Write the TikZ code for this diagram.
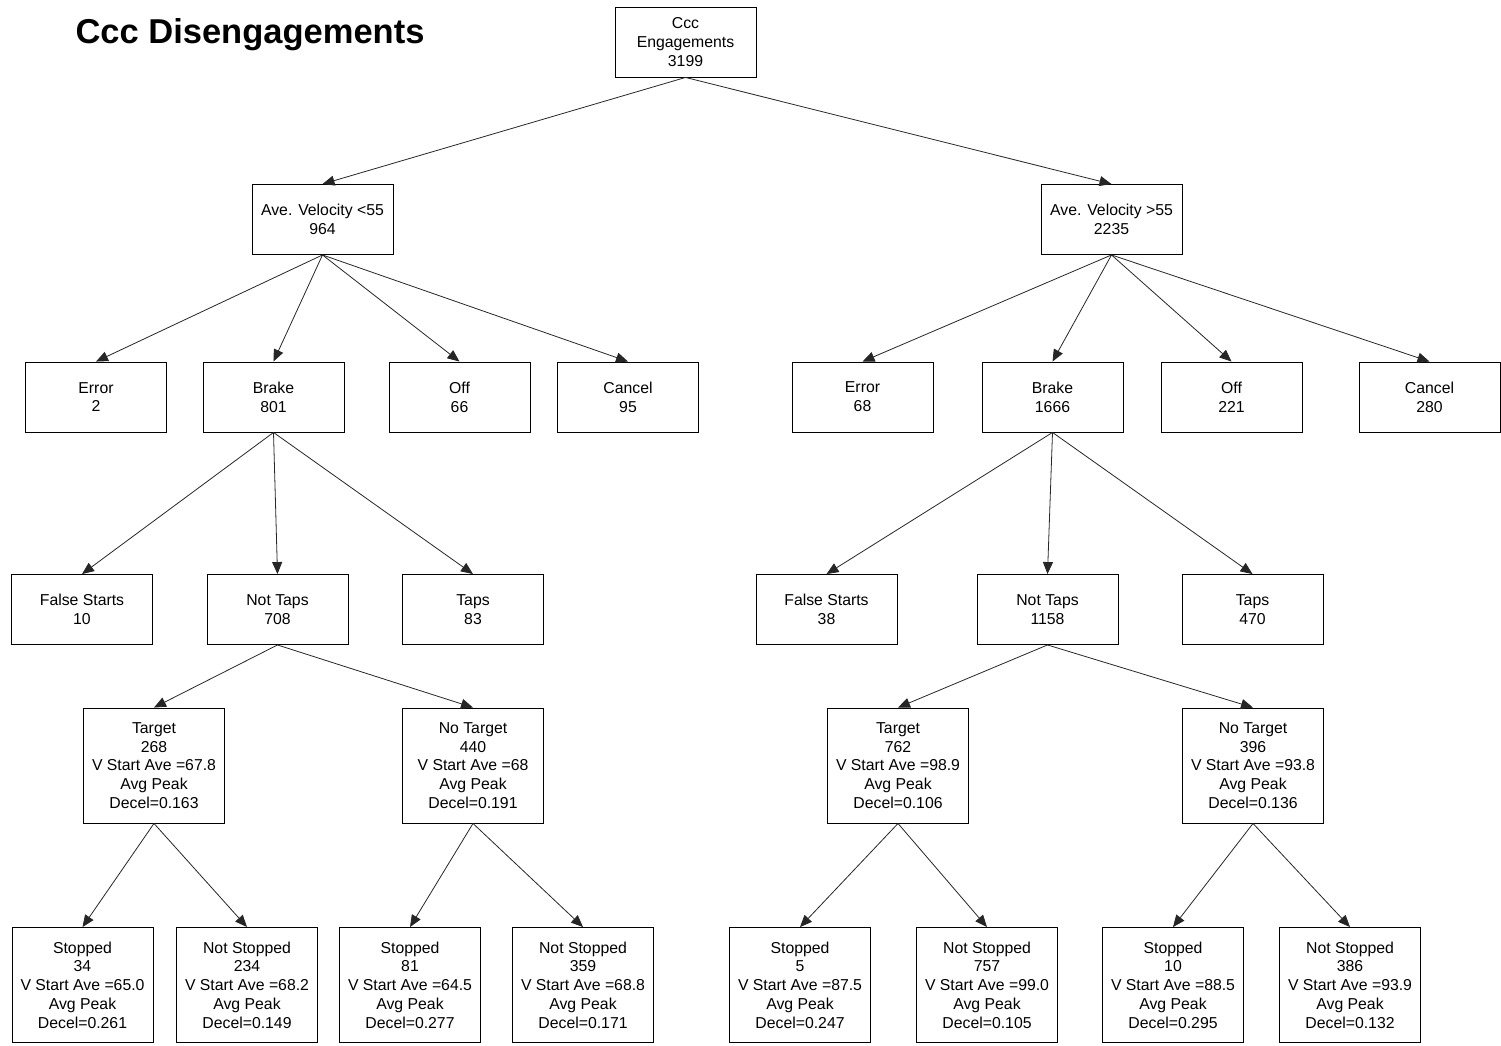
\documentclass[tikz,border=0pt]{standalone}
\usepackage{fontspec}
\setmainfont{Liberation Sans}
\usetikzlibrary{arrows.meta}
\begin{document}
\begin{tikzpicture}[x=1pt,y=-1pt,
  box/.style={draw=black,line width=0.9pt,rectangle,minimum width=141pt,minimum height=70pt,inner sep=0pt,align=center,font=\fontsize{15.8}{18.8}\selectfont},
  tall/.style={box,minimum height=115pt},
  conn/.style={draw=black!85,line width=0.8pt,-{Triangle[length=12pt,width=10pt]}}]
\useasboundingbox (0,0) rectangle (1501,1045);
\node[anchor=west,font=\fontsize{34.5}{40}\selectfont\bfseries] (title) at (72,35) {Ccc Disengagements};
\node[box] (root) at (685.5,42) {Ccc\\Engagements\\3199};
\node[box] (lo) at (322.5,219.5) {Ave. Velocity <55\\964};
\node[box] (hi) at (1111.5,219.5) {Ave. Velocity >55\\2235};
% level 2 left
\node[box] (err1) at (96,397) {Error\\2};
\node[box] (brk1) at (273.5,397) {Brake\\801};
\node[box] (off1) at (459.5,397) {Off\\66};
\node[box] (can1) at (628,397) {Cancel\\95};
% level 2 right
\node[box] (err2) at (862.5,397) {Error\\68};
\node[box] (brk2) at (1052.5,397) {Brake\\1666};
\node[box] (off2) at (1231.5,397) {Off\\221};
\node[box] (can2) at (1429.5,397) {Cancel\\280};
% level 3
\node[box] (fs1) at (82,609.5) {False Starts\\10};
\node[box] (nt1) at (277.5,609.5) {Not Taps\\708};
\node[box] (tp1) at (473,609.5) {Taps\\83};
\node[box] (fs2) at (826.5,609.5) {False Starts\\38};
\node[box] (nt2) at (1047.5,609.5) {Not Taps\\1158};
\node[box] (tp2) at (1252.5,609.5) {Taps\\470};
% level 4
\node[tall] (tg1) at (154,765.5) {Target\\268\\V Start Ave =67.8\\Avg Peak\\Decel=0.163};
\node[tall] (nt1b) at (473,765.5) {No Target\\440\\V Start Ave =68\\Avg Peak\\Decel=0.191};
\node[tall] (tg2) at (898,765.5) {Target\\762\\V Start Ave =98.9\\Avg Peak\\Decel=0.106};
\node[tall] (nt2b) at (1253,765.5) {No Target\\396\\V Start Ave =93.8\\Avg Peak\\Decel=0.136};
% level 5
\node[tall] (s1) at (82.5,985) {Stopped\\34\\V Start Ave =65.0\\Avg Peak\\Decel=0.261};
\node[tall] (ns1) at (247,985) {Not Stopped\\234\\V Start Ave =68.2\\Avg Peak\\Decel=0.149};
\node[tall] (s2) at (410,985) {Stopped\\81\\V Start Ave =64.5\\Avg Peak\\Decel=0.277};
\node[tall] (ns2) at (583,985) {Not Stopped\\359\\V Start Ave =68.8\\Avg Peak\\Decel=0.171};
\node[tall] (s3) at (800,985) {Stopped\\5\\V Start Ave =87.5\\Avg Peak\\Decel=0.247};
\node[tall] (ns3) at (987,985) {Not Stopped\\757\\V Start Ave =99.0\\Avg Peak\\Decel=0.105};
\node[tall] (s4) at (1173,985) {Stopped\\10\\V Start Ave =88.5\\Avg Peak\\Decel=0.295};
\node[tall] (ns4) at (1350,985) {Not Stopped\\386\\V Start Ave =93.9\\Avg Peak\\Decel=0.132};
% connectors
\foreach \a/\b in {root/lo,root/hi,lo/err1,lo/brk1,lo/off1,lo/can1,hi/err2,hi/brk2,hi/off2,hi/can2,
  brk1/fs1,brk1/nt1,brk1/tp1,brk2/fs2,brk2/nt2,brk2/tp2,nt1/tg1,nt1/nt1b,nt2/tg2,nt2/nt2b,
  tg1/s1,tg1/ns1,nt1b/s2,nt1b/ns2,tg2/s3,tg2/ns3,nt2b/s4,nt2b/ns4}
  \draw[conn] (\a.south) -- (\b.north);
\end{tikzpicture}
\end{document}
